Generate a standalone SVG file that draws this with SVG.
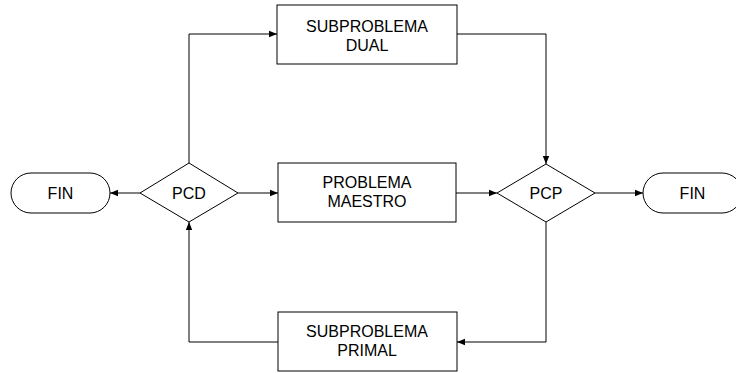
<svg xmlns="http://www.w3.org/2000/svg" width="736" height="373" viewBox="0 0 736 373">
<style>
.s{fill:#fff;stroke:#000;stroke-width:1}
.t{font-family:"Liberation Sans",Arial,sans-serif;font-size:16px;fill:#000;text-anchor:middle}
.c{fill:none;stroke:#000;stroke-width:1;marker-end:url(#ah)}
</style>
<defs>
<marker id="ah" viewBox="0 0 10 10" refX="10" refY="5" markerWidth="8" markerHeight="8" markerUnits="userSpaceOnUse" orient="auto">
<path d="M0,1 L10,5 L0,9 Z" fill="#000"/>
</marker>
</defs>
<rect width="736" height="373" fill="#fff"/>
<g id="connectors">
<path class="c" d="M140,193 H110"/>
<path class="c" d="M238,193 H278"/>
<path class="c" d="M456,193 H497"/>
<path class="c" d="M595,193 H643"/>
<path class="c" d="M189,163 V34 H277"/>
<path class="c" d="M457,34 H546 V164"/>
<path class="c" d="M546,222 V342 H457"/>
<path class="c" d="M278,342 H189 V222"/>
</g>
<g id="fin-left">
<rect class="s" x="11" y="173" width="99" height="40" rx="20" ry="20"/>
<text class="t" x="60.5" y="199">FIN</text>
</g>
<g id="pcd">
<path class="s" d="M189,163 L238,193 L189,222 L140,193 Z"/>
<text class="t" x="189" y="199">PCD</text>
</g>
<g id="problema-maestro">
<rect class="s" x="278" y="163" width="178" height="59"/>
<text class="t" x="367" y="188">PROBLEMA</text>
<text class="t" x="367" y="207">MAESTRO</text>
</g>
<g id="subproblema-dual">
<rect class="s" x="277" y="5" width="180" height="59"/>
<text class="t" x="367" y="32">SUBPROBLEMA</text>
<text class="t" x="367" y="51">DUAL</text>
</g>
<g id="pcp">
<path class="s" d="M546,164 L595,193 L546,222 L497,193 Z"/>
<text class="t" x="546" y="199">PCP</text>
</g>
<g id="fin-right">
<rect class="s" x="643" y="173" width="99" height="40" rx="20" ry="20"/>
<text class="t" x="692.5" y="199">FIN</text>
</g>
<g id="subproblema-primal">
<rect class="s" x="278" y="312" width="179" height="59"/>
<text class="t" x="367" y="337">SUBPROBLEMA</text>
<text class="t" x="367" y="356">PRIMAL</text>
</g>
</svg>
